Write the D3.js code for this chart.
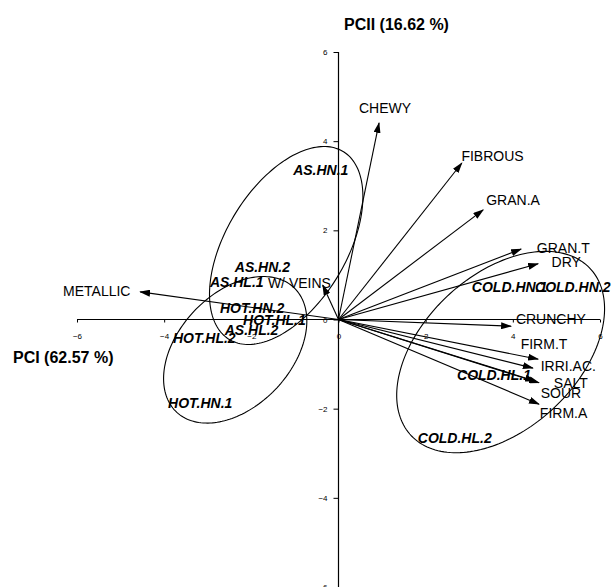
<!DOCTYPE html>
<html>
<head>
<meta charset="utf-8">
<script src="https://cdn.jsdelivr.net/npm/d3@7"></script>
<style>
  html, body { margin: 0; padding: 0; background: #fff; }
  svg { display: block; }
</style>
</head>
<body>
<svg id="chart" width="613" height="587"></svg>
<script>
// ---- Data (PCA biplot, data units) ----
const variables = ["CHEWY","FIBROUS","GRAN.A","GRAN.T","DRY","CRUNCHY","FIRM.T","IRRI.AC.","SALT","SOUR","FIRM.A","METALLIC","W/ VEINS"];
const loadX = [0.93, 2.83, 3.32, 4.19, 4.58, 3.96, 4.58, 4.46, 4.60, 4.51, 4.60, -4.55, -0.36];
const loadY = [4.41, 3.51, 2.46, 1.58, 1.25, -0.15, -0.89, -1.09, -1.42, -1.38, -1.90, 0.62, 0.77];
// label anchors (data units, start of text / baseline)
const varLabelX = [0.47, 2.82, 3.39, 4.55, 4.89, 4.07, 4.18, 4.64, 4.94, 4.64, 4.62, -6.32, -1.62];
const varLabelY = [4.63, 3.55, 2.57, 1.50, 1.17, -0.10, -0.66, -1.15, -1.53, -1.77, -2.22, 0.53, 0.71];

const groups = ["AS.HN.1","AS.HN.2","AS.HL.1","HOT.HN.2","HOT.HL.1","AS.HL.2","HOT.HL.2","HOT.HN.1","COLD.HN.1","COLD.HN.2","COLD.HL.1","COLD.HL.2"];
const groupX = [-1.04, -2.38, -2.95, -2.72, -2.19, -2.61, -3.80, -3.91, 3.06, 4.51, 2.72, 1.82];
const groupY = [3.24, 1.07, 0.73, 0.15, -0.12, -0.35, -0.53, -1.99, 0.62, 0.62, -1.36, -2.77];

// confidence ellipses: centre, semi-axes, rotation (degrees)
const ellipseNames = ["AS","HOT","COLD"];
const ellCX = [-1.20, -2.37, 3.72];
const ellCY = [1.66, -0.68, -0.73];
const ellA  = [2.48, 1.94, 2.78];
const ellB  = [1.37, 1.28, 1.75];
const ellRot = [57.7, 45, 41.4];

const ticks = [-6, -4, -2, 0, 2, 4, 6];
const xTitle = "PCI (62.57 %)";
const yTitle = "PCII (16.62 %)";

// ---- Scales ----
const svg = d3.select("#chart");
const x = d3.scaleLinear().domain([-6, 6]).range([77, 600]);
const y = d3.scaleLinear().domain([-6, 6]).range([587, 52]);
const font = "'Liberation Sans', Arial, sans-serif";

// ---- Axes ----
const xAxis = d3.axisBottom(x).tickValues(ticks).tickSize(3).tickPadding(11).tickFormat(d3.format("d"));
const gx = svg.append("g").attr("transform", `translate(0,${y(0)})`).call(xAxis);
const yAxis = d3.axisLeft(y).tickValues(ticks).tickSize(5).tickPadding(6).tickFormat(d3.format("d"));
const gy = svg.append("g").attr("transform", `translate(${x(0)},0)`).call(yAxis);
[gx, gy].forEach(g => {
  g.select(".domain").attr("stroke", "#000").attr("stroke-width", 1.2);
  g.selectAll(".tick line").attr("stroke", "#000");
  g.selectAll(".tick text").attr("font-family", font).attr("font-size", 8).attr("fill", "#000");
});
// make y domain reach the bottom edge
gy.select(".domain").attr("d", `M-0,${y(6)}V${y(-6) + 5}`);
gx.select(".domain").attr("d", `M${x(-6)},0H${x(6)}`);

svg.append("text").attr("x", 344).attr("y", 30).attr("font-family", font)
  .attr("font-size", 16).attr("font-weight", "bold").text(yTitle);
svg.append("text").attr("x", 13).attr("y", 363).attr("font-family", font)
  .attr("font-size", 16).attr("font-weight", "bold").text(xTitle);

// ---- Ellipses ----
const line = d3.line().x(d => x(d[0])).y(d => y(d[1])).curve(d3.curveLinearClosed);
ellipseNames.forEach((n, i) => {
  const phi = ellRot[i] * Math.PI / 180;
  const pts = d3.range(0, 2 * Math.PI, Math.PI / 90).map(t => [
    ellCX[i] + ellA[i] * Math.cos(t) * Math.cos(phi) - ellB[i] * Math.sin(t) * Math.sin(phi),
    ellCY[i] + ellA[i] * Math.cos(t) * Math.sin(phi) + ellB[i] * Math.sin(t) * Math.cos(phi)
  ]);
  svg.append("path").attr("d", line(pts)).attr("fill", "none").attr("stroke", "#000").attr("stroke-width", 1.1);
});

// ---- Arrows ----
svg.append("defs").append("marker")
  .attr("id", "ah").attr("viewBox", "0 -3.5 11 7").attr("refX", 10).attr("refY", 0)
  .attr("markerWidth", 11).attr("markerHeight", 7).attr("markerUnits", "userSpaceOnUse")
  .attr("orient", "auto")
  .append("path").attr("d", "M0,-3.5L11,0L0,3.5Z").attr("fill", "#000");

variables.forEach((v, i) => {
  svg.append("line")
    .attr("x1", x(0)).attr("y1", y(0))
    .attr("x2", x(loadX[i])).attr("y2", y(loadY[i]))
    .attr("stroke", "#000").attr("stroke-width", 1.1)
    .attr("marker-end", "url(#ah)");
});

// ---- Labels ----
variables.forEach((v, i) => {
  svg.append("text").attr("x", x(varLabelX[i])).attr("y", y(varLabelY[i]))
    .attr("font-family", font).attr("font-size", 14).attr("fill", "#000").text(v);
});
groups.forEach((g, i) => {
  svg.append("text").attr("x", x(groupX[i])).attr("y", y(groupY[i]))
    .attr("font-family", font).attr("font-size", 14).attr("font-weight", "bold")
    .attr("font-style", "italic").attr("fill", "#000").text(g);
});
</script>
</body>
</html>
